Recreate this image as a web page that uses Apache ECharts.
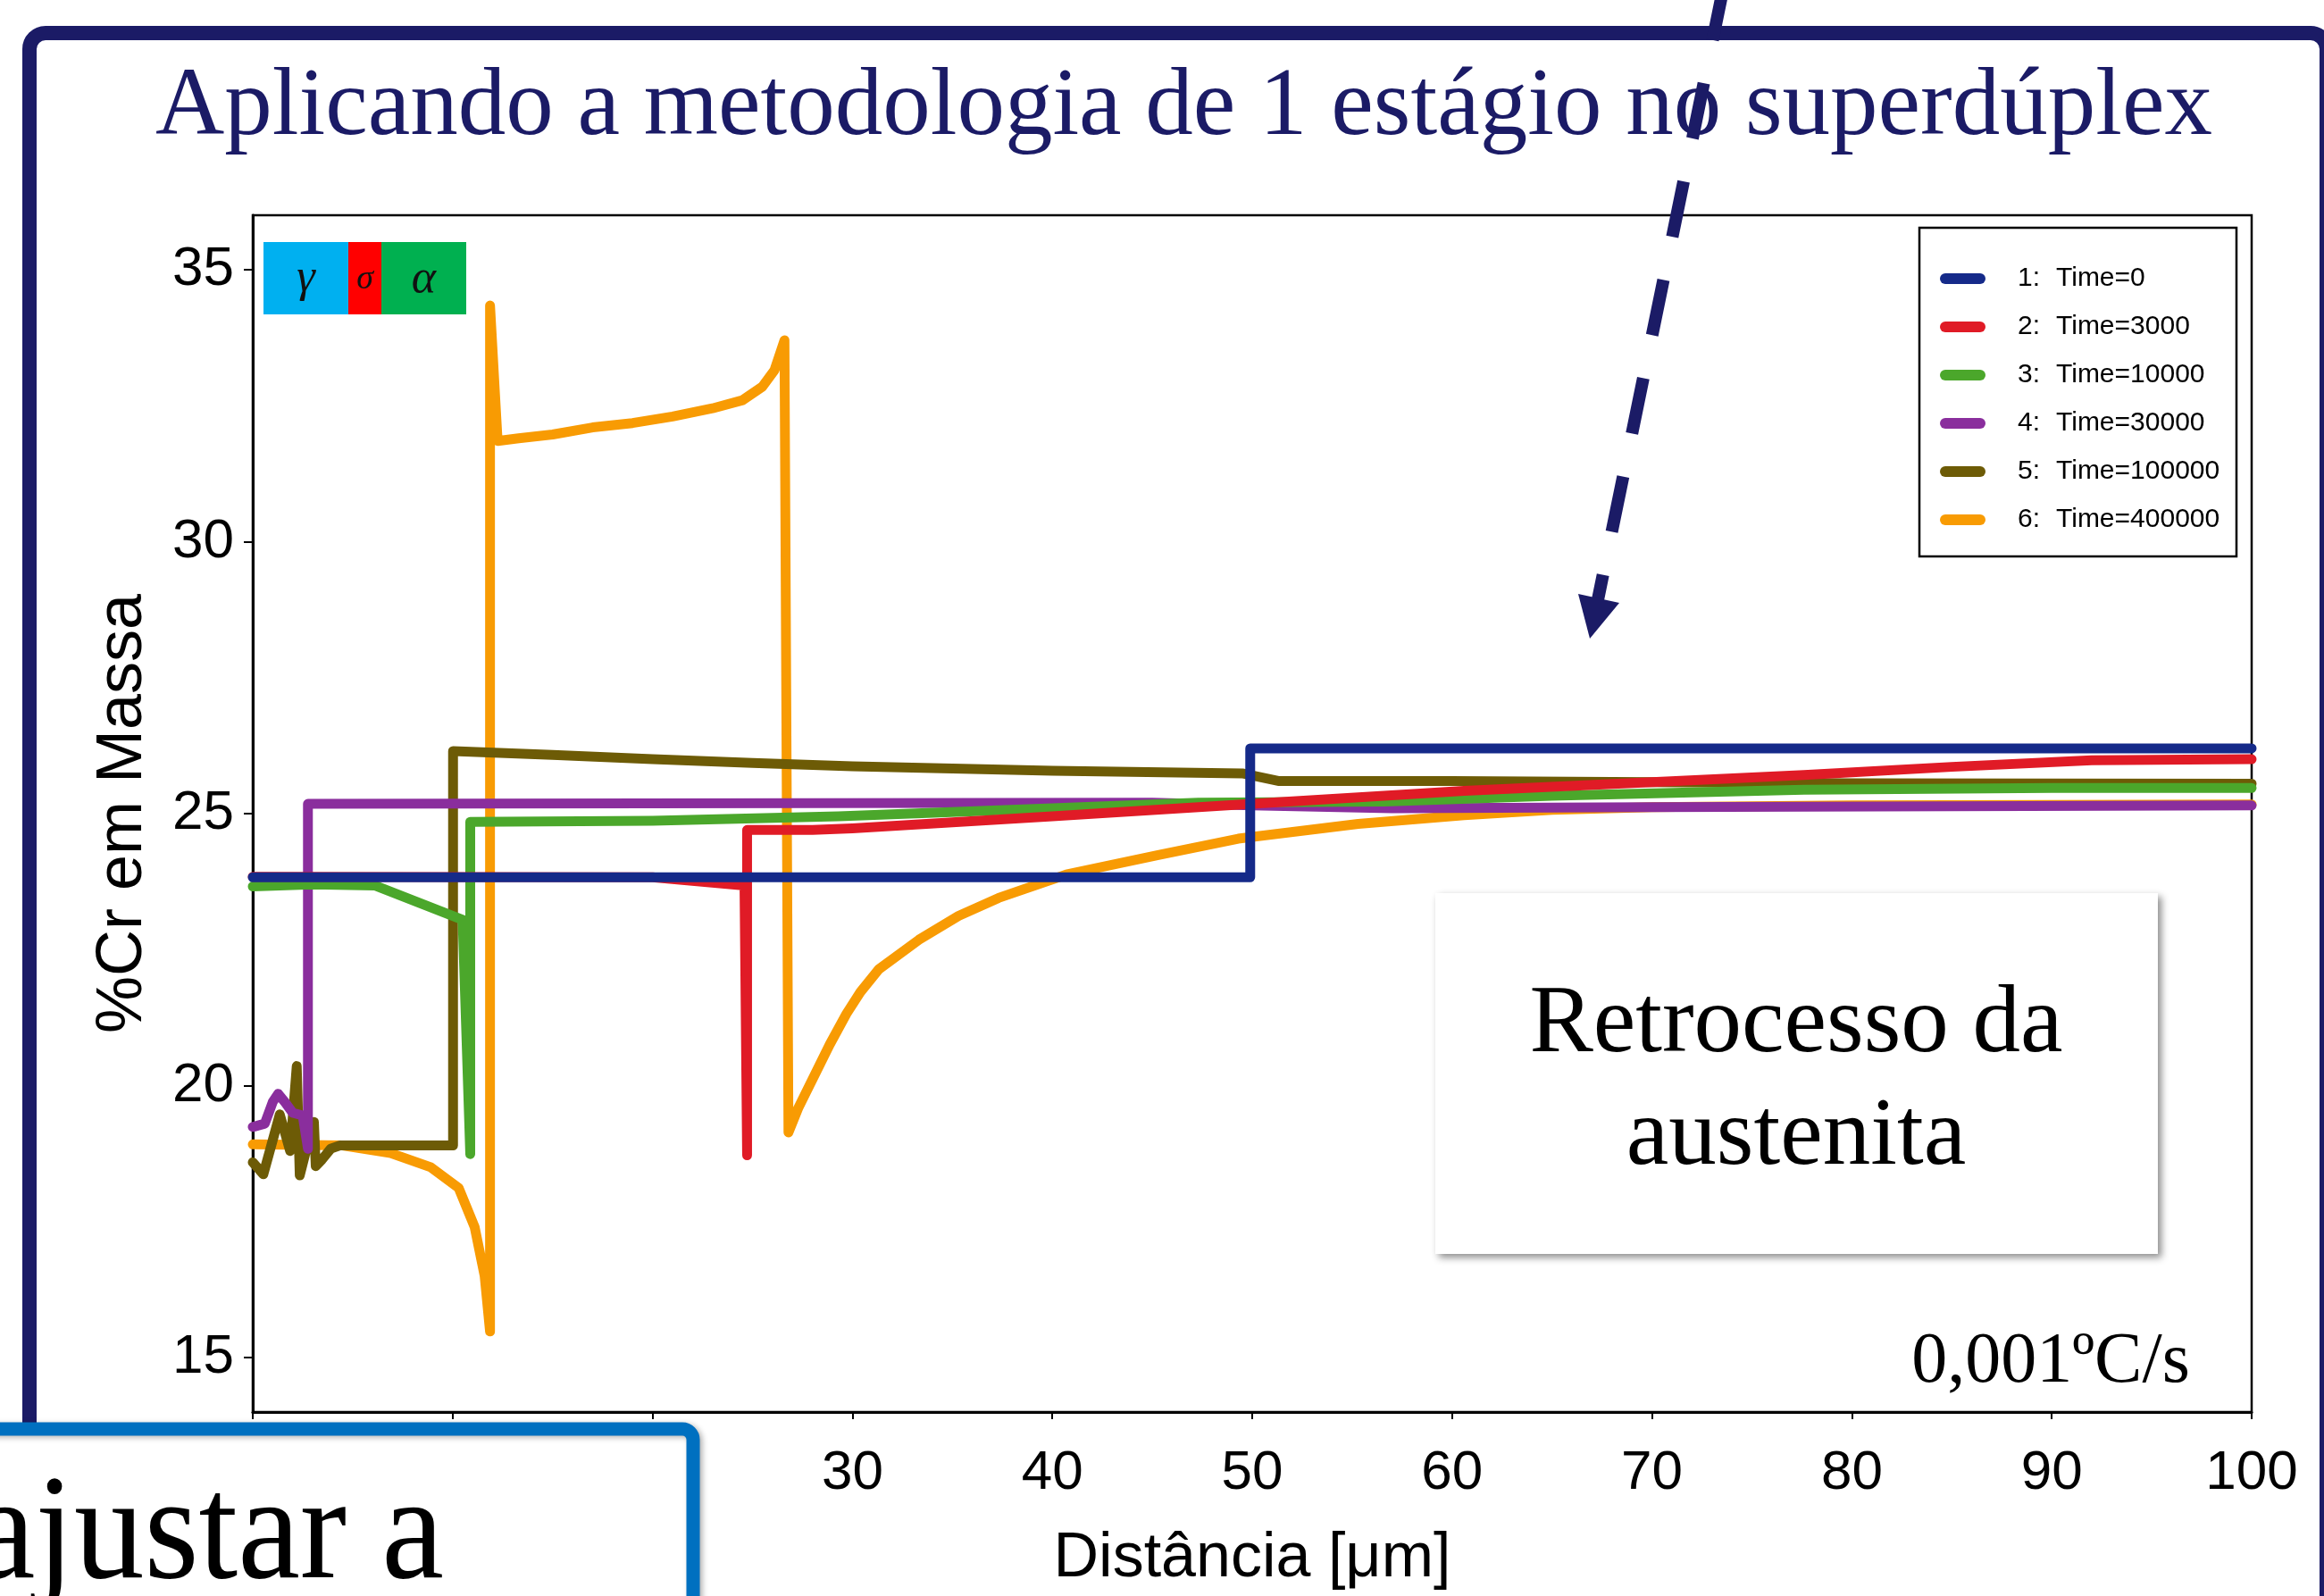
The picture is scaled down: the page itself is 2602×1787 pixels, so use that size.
<!DOCTYPE html>
<html lang="pt">
<head>
<meta charset="utf-8">
<title>Aplicando a metodologia de 1 estágio no superdúplex</title>
<script src="https://cdn.jsdelivr.net/npm/echarts@6/dist/echarts.min.js"></script>
<style>
html, body { margin: 0; padding: 0; background: #fff; }
#chart { width: 2602px; height: 1787px; }
</style>
</head>
<body>
<div id="chart"></div>
<script>
// Perfis de %Cr em massa ao longo da distância [μm], um por tempo de simulação

const seriesNames = ['Time=0', 'Time=3000', 'Time=10000', 'Time=30000', 'Time=100000', 'Time=400000'];

const crTime0 = [[0, 23.83], [49.9, 23.83], [49.9, 26.2], [100, 26.2]];

const crTime3000 = [[0, 23.84], [20, 23.83], [24.6, 23.68], [24.73, 18.72], [24.73, 24.7], [28, 24.7],
  [30, 24.73], [40, 24.95], [50, 25.18], [56.6, 25.33], [60.6, 25.42], [70, 25.58], [77.6, 25.71],
  [85, 25.86], [92, 25.98], [100, 26.0]];

const crTime10000 = [[0, 23.66], [3, 23.7], [6.1, 23.68], [10.5, 23.05], [10.88, 18.74], [10.88, 24.85],
  [20, 24.87], [29.3, 24.95], [40, 25.1], [47.3, 25.2], [56.6, 25.22], [65, 25.33], [77.6, 25.44],
  [90, 25.47], [100, 25.47]];

const crTime30000 = [[0, 19.24], [0.6, 19.3], [1.0, 19.7], [1.27, 19.85], [1.6, 19.7], [2.0, 19.5],
  [2.5, 19.45], [2.76, 18.84], [2.76, 25.18], [45, 25.2], [50, 25.15], [57, 25.1], [70, 25.12], [100, 25.15]];

const crTime100000 = [[0, 18.59], [0.53, 18.37], [1.0, 19.0], [1.35, 19.47], [1.87, 18.8], [2.2, 20.36],
  [2.35, 18.35], [2.8, 19.0], [3.06, 19.33], [3.15, 18.52], [3.46, 18.64], [3.9, 18.84], [4.35, 18.9],
  [10.02, 18.9], [10.02, 26.15], [15, 26.08], [20, 26.0], [25, 25.93], [30, 25.87], [40, 25.79],
  [49.5, 25.74], [51.3, 25.6], [60, 25.6], [70, 25.58], [80, 25.56], [100, 25.55]];

const crTime400000 = [[0, 18.92], [4.5, 18.9], [6.9, 18.76], [8.9, 18.5], [10.3, 18.12], [11.1, 17.4],
  [11.6, 16.5], [11.87, 15.48], [11.87, 34.34], [12.25, 31.85], [13.3, 31.9], [15, 31.97], [17, 32.1],
  [19, 32.18], [21, 32.3], [23, 32.45], [24.5, 32.6], [25.5, 32.85], [26.1, 33.15], [26.6, 33.7],
  [26.8, 19.14], [27.28, 19.58], [28.87, 20.76], [29.7, 21.32], [30.4, 21.72], [31.32, 22.14], [33.32, 22.68],
  [35.31, 23.12], [37.31, 23.45], [40.7, 23.88], [45.3, 24.24], [49.3, 24.54], [55.3, 24.81],
  [60.6, 24.97], [65, 25.07], [70, 25.12], [80, 25.15], [100, 25.17]];

const seriesData = [crTime0, crTime3000, crTime10000, crTime30000, crTime100000, crTime400000];

const xTickValues = [0, 10, 20, 30, 40, 50, 60, 70, 80, 90, 100];
const yTickValues = [15, 20, 25, 30, 35];

const titleText = 'Aplicando a metodologia de 1 estágio no superdúplex';
const yAxisTitle = '%Cr em Massa';
const xAxisTitle = 'Distância [μm]';
const phaseLabels = ['γ', 'σ', 'α'];
const noteLines = ['Retrocesso da', 'austenita'];
const rateText = '0,001ºC/s';
const sideText = 'ajustar a';

// estilo
const lineColors = ['#152a89', '#e01b26', '#4ba72b', '#8a2e9d', '#6d5b06', '#f89b03'];
const navy = '#1b1b66';
const sans = '"Liberation Sans", Arial, sans-serif';
const serif = '"Liberation Serif", "Times New Roman", serif';

const chart = echarts.init(document.getElementById('chart'), null, { renderer: 'canvas' });

const series = seriesNames.map((name, i) => ({
  name: name,
  type: 'line',
  data: seriesData[i],
  symbol: 'none',
  smooth: false,
  z: 10 - i,
  lineStyle: { color: lineColors[i], width: 11, cap: 'round', join: 'round' },
  itemStyle: { color: lineColors[i] },
  emphasis: { disabled: true },
  animation: false
}));

// Faixa de fases no canto superior esquerdo do gráfico
const phaseBlocks = [
  { x: 295, w: 95, color: '#00b0f0', label: phaseLabels[0], font: 'italic 52px ' + serif, ty: 312 },
  { x: 390, w: 37, color: '#ff0000', label: phaseLabels[1], font: 'italic 38px ' + serif, ty: 313 },
  { x: 427, w: 95, color: '#00b050', label: phaseLabels[2], font: 'italic 52px ' + serif, ty: 313 }
];
const phaseElements = [];
phaseBlocks.forEach(b => {
  phaseElements.push({
    type: 'rect', z: 100,
    shape: { x: b.x, y: 271, width: b.w, height: 81 },
    style: { fill: b.color }
  });
  phaseElements.push({
    type: 'text', z: 101,
    x: b.x + b.w / 2, y: b.ty,
    style: { text: b.label, font: b.font, fill: '#111', align: 'center', verticalAlign: 'middle' }
  });
});

// Seta tracejada
const arrowTop = [1930.2, -17];
const arrowEnd = [1789.1, 671];

const option = {
  backgroundColor: '#fff',
  animation: false,
  grid: {
    left: 283, top: 241, right: 81, bottom: 206,
    show: true, borderColor: '#000', borderWidth: 2.5, backgroundColor: 'transparent'
  },
  xAxis: {
    type: 'value', min: 0, max: 100, interval: 10,
    name: xAxisTitle, nameLocation: 'middle', nameGap: 130,
    nameTextStyle: { fontSize: 70, fontFamily: sans, color: '#000' },
    axisLine: { show: true, lineStyle: { color: '#000', width: 3 } },
    axisTick: { show: true, length: 8, lineStyle: { color: '#000', width: 2 } },
    axisLabel: {
      fontSize: 62, fontFamily: sans, color: '#000', margin: 38,
      customValues: xTickValues
    },
    splitLine: { show: false }
  },
  yAxis: {
    type: 'value', min: 14, max: 36,
    name: yAxisTitle, nameLocation: 'middle', nameGap: 109, nameRotate: 90,
    nameTextStyle: { fontSize: 72, fontFamily: sans, color: '#000' },
    axisLine: { show: true, lineStyle: { color: '#000', width: 3 } },
    axisTick: { show: true, length: 10, lineStyle: { color: '#000', width: 2 }, customValues: yTickValues },
    axisLabel: { fontSize: 62, fontFamily: sans, color: '#000', margin: 21, customValues: yTickValues },
    splitLine: { show: false }
  },
  legend: {
    orient: 'vertical',
    left: 2172, top: 295,
    padding: 0,
    itemWidth: 51, itemHeight: 12, itemGap: 20,
    icon: 'path://M6 0H45A6 6 0 0 1 45 12H6A6 6 0 0 1 6 0Z',
    selectedMode: false,
    data: seriesNames,
    formatter: function (name) {
      const i = seriesNames.indexOf(name);
      return '{s|}{n|' + (i + 1) + ':}' + name;
    },
    textStyle: {
      fontSize: 30, fontFamily: sans, color: '#000', lineHeight: 34,
      rich: {
        s: { width: 31 },
        n: { width: 43, fontSize: 30, fontFamily: sans, color: '#000' }
      }
    }
  },
  series: series,
  graphic: {
    elements: [
      // moldura azul-marinho do slide
      {
        type: 'rect', z: 1,
        shape: { x: 33, y: 37, width: 2572, height: 2000, r: 18 },
        style: { fill: 'none', stroke: navy, lineWidth: 16 }
      },
      // título
      {
        type: 'text', z: 10,
        x: 174, y: 122,
        style: { text: titleText, font: '107px ' + serif, fill: navy, align: 'left', verticalAlign: 'middle' }
      },
      ...phaseElements,
      // caixa da legenda
      {
        type: 'rect', z: 100,
        shape: { x: 2149, y: 255, width: 355, height: 368 },
        style: { fill: 'none', stroke: '#000', lineWidth: 2.5 }
      },
      // caixa de anotação
      {
        type: 'rect', z: 100,
        shape: { x: 1607, y: 1000, width: 809, height: 404 },
        style: {
          fill: '#fff', shadowBlur: 8, shadowOffsetX: 4, shadowOffsetY: 4,
          shadowColor: 'rgba(0,0,0,0.45)'
        }
      },
      {
        type: 'text', z: 101,
        x: 2011, y: 1149,
        style: { text: noteLines[0], font: '107px ' + serif, fill: '#000', align: 'center', verticalAlign: 'middle' }
      },
      {
        type: 'text', z: 101,
        x: 2011, y: 1275,
        style: { text: noteLines[1], font: '107px ' + serif, fill: '#000', align: 'center', verticalAlign: 'middle' }
      },
      {
        type: 'text', z: 101,
        x: 2296, y: 1526,
        style: { text: rateText, font: '80px ' + serif, fill: '#000', align: 'center', verticalAlign: 'middle' }
      },
      // seta tracejada
      {
        type: 'line', z: 120,
        shape: { x1: arrowTop[0], y1: arrowTop[1], x2: arrowEnd[0], y2: arrowEnd[1] },
        style: { stroke: navy, lineWidth: 14, lineDash: [63.2, 49.2], lineCap: 'butt' }
      },
      {
        type: 'polygon', z: 121,
        shape: { points: [[1780, 715], [1813, 675], [1767, 665]] },
        style: { fill: navy }
      },
      // caixa azul inferior esquerda
      {
        type: 'rect', z: 130,
        shape: { x: -60, y: 1600, width: 836, height: 400, r: 12 },
        style: {
          fill: '#fff', stroke: '#0070c0', lineWidth: 15,
          shadowBlur: 6, shadowOffsetX: 3, shadowOffsetY: 2, shadowColor: 'rgba(0,0,0,0.3)'
        }
      },
      {
        type: 'text', z: 131,
        x: 497, y: 1722, scaleX: 0.94,
        style: { text: sideText, font: '167px ' + serif, fill: '#000', align: 'right', verticalAlign: 'middle' }
      }
    ]
  }
};

chart.setOption(option);
</script>
</body>
</html>
